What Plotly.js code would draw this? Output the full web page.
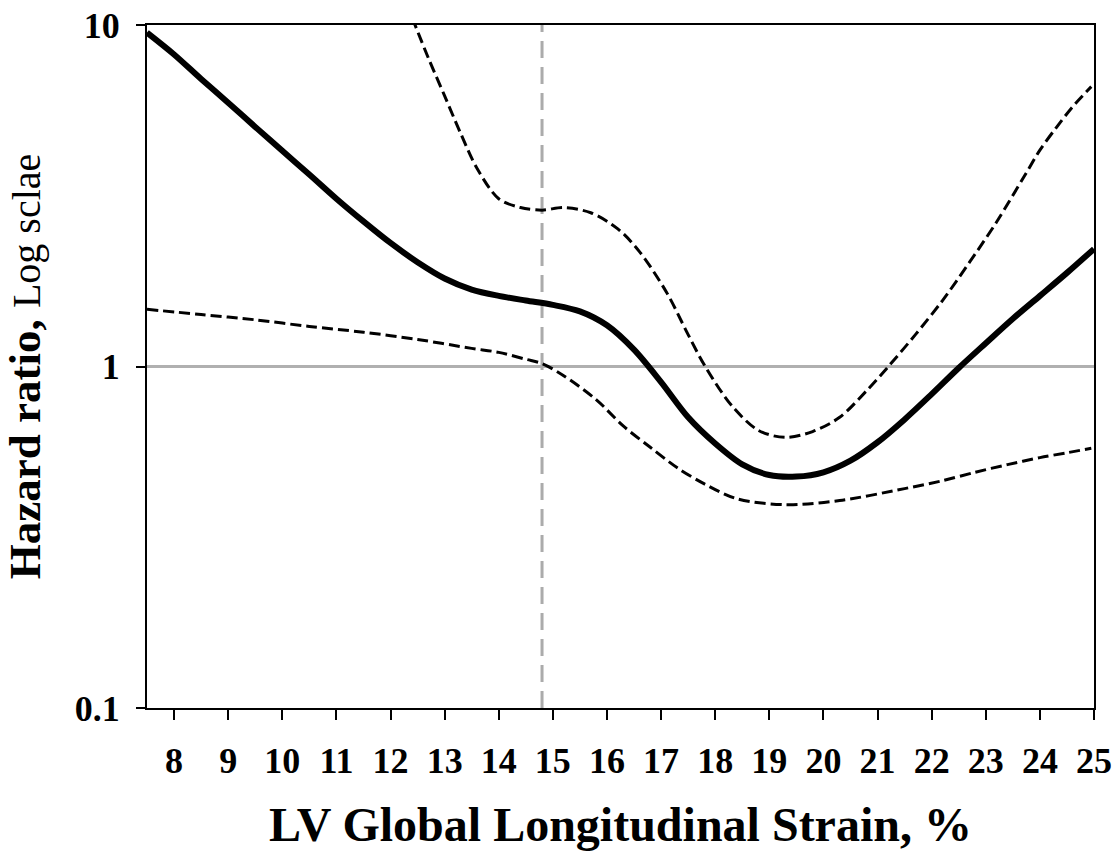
<!DOCTYPE html>
<html>
<head>
<meta charset="utf-8">
<script src="https://cdn.plot.ly/plotly-3.0.1.min.js"></script>
<style>
  html, body { margin: 0; padding: 0; background: #fff; }
  #chart { width: 1118px; height: 853px; }
</style>
</head>
<body>
<div id="chart"></div>
<script>
// ---- Data ----
const hrX = [7.5, 8.0, 8.5, 9.0, 9.5, 10.0, 10.5, 11.0, 11.5, 12.0, 12.5, 13.0, 13.5, 14.0, 14.5, 15.0, 15.5, 16.0, 16.5, 17.0, 17.5, 18.0, 18.5, 19.0, 19.5, 20.0, 20.5, 21.0, 21.5, 22.0, 22.5, 23.0, 23.5, 24.0, 24.5, 25.0];
const hrY = [9.5, 8.2, 6.95, 5.92, 5.03, 4.28, 3.65, 3.10, 2.66, 2.30, 2.02, 1.81, 1.68, 1.61, 1.56, 1.515, 1.45, 1.32, 1.12, 0.90, 0.71, 0.595, 0.517, 0.481, 0.476, 0.49, 0.53, 0.60, 0.70, 0.83, 0.99, 1.17, 1.38, 1.61, 1.88, 2.21];

const upperX = [12.4, 12.7, 13.0, 13.3, 13.6, 14.0, 14.4, 14.8, 15.2, 15.7, 16.2, 16.6, 17.1, 17.5, 17.8, 18.3, 18.8, 19.3, 19.8, 20.3, 20.8, 21.2, 21.7, 22.2, 22.7, 23.2, 23.7, 24.0, 24.3, 24.6, 24.95];
const upperY = [10.5, 8.0, 6.2, 4.8, 3.8, 3.1, 2.92, 2.87, 2.92, 2.82, 2.53, 2.17, 1.65, 1.24, 1.01, 0.77, 0.65, 0.62, 0.645, 0.71, 0.85, 1.0, 1.24, 1.56, 2.02, 2.65, 3.58, 4.3, 5.0, 5.75, 6.6];

const lowerX = [7.5, 8.5, 9.5, 10.5, 11.5, 12.5, 13.5, 14.0, 14.5, 14.8, 15.2, 15.8, 16.3, 16.8, 17.3, 17.8, 18.4, 19.3, 20.3, 21.5, 22.2, 22.8, 23.4, 24.0, 24.5, 24.95];
const lowerY = [1.47, 1.42, 1.37, 1.31, 1.26, 1.20, 1.13, 1.10, 1.05, 1.02, 0.94, 0.80, 0.67, 0.58, 0.505, 0.453, 0.41, 0.394, 0.405, 0.439, 0.463, 0.49, 0.516, 0.541, 0.559, 0.576];

const cutoffX = 14.8;          // vertical reference (dashed grey)
const refHR = 1;               // horizontal reference (solid grey)
const xRange = [7.5, 25];
const yTicks = [0.1, 1, 10];
const yTickText = ['0.1', '1', '10'];
const xTicks = [8, 9, 10, 11, 12, 13, 14, 15, 16, 17, 18, 19, 20, 21, 22, 23, 24, 25];

const FONT = 'Liberation Serif, Times New Roman, serif';

const traces = [
  { x: xRange, y: [refHR, refHR], mode: 'lines', line: { color: '#b0b0b0', width: 3 }, hoverinfo: 'skip' },
  { x: [cutoffX, cutoffX], y: [0.1, 10], mode: 'lines', line: { color: '#ababab', width: 3, dash: '17px,9px' }, hoverinfo: 'skip' },
  { x: lowerX, y: lowerY, mode: 'lines', line: { color: '#000', width: 3, dash: '11px,5px', shape: 'spline', smoothing: 0.9 } },
  { x: upperX, y: upperY, mode: 'lines', line: { color: '#000', width: 3, dash: '11px,5px', shape: 'spline', smoothing: 0.9 } },
  { x: hrX, y: hrY, mode: 'lines', line: { color: '#000', width: 6, shape: 'spline', smoothing: 0.9 } }
];

const layout = {
  width: 1118, height: 853,
  margin: { l: 146.5, r: 23.5, t: 24.5, b: 145 },
  paper_bgcolor: '#fff', plot_bgcolor: '#fff',
  showlegend: false,
  font: { family: FONT, color: '#000' },
  xaxis: {
    range: xRange, tickvals: xTicks, ticks: 'outside', ticklen: 10, tickwidth: 2, tickcolor: '#000',
    showgrid: false, zeroline: false, showline: true, linecolor: '#000', linewidth: 2, mirror: true,
    tickfont: { family: FONT, size: 36, weight: 'bold', color: '#000' },
    ticklabelstandoff: 10,
    title: { text: '<b>LV Global Longitudinal Strain, %</b>', font: { family: FONT, size: 48, color: '#000' }, standoff: 27 }
  },
  yaxis: {
    type: 'log', range: [-1, 1], tickvals: yTicks, ticktext: yTickText, ticks: 'outside', ticklen: 9, tickwidth: 2, tickcolor: '#000',
    showgrid: false, zeroline: false, showline: true, linecolor: '#000', linewidth: 2, mirror: true,
    tickfont: { family: FONT, size: 36, weight: 'bold', color: '#000' },
    ticklabelstandoff: 9,
    title: { text: '<b>Hazard ratio,</b> <span style="font-size:40px">Log sclae</span>', font: { family: FONT, size: 45, color: '#000' }, standoff: 20 }
  }
};

Plotly.newPlot('chart', traces, layout, { displayModeBar: false, staticPlot: true });
</script>
</body>
</html>
